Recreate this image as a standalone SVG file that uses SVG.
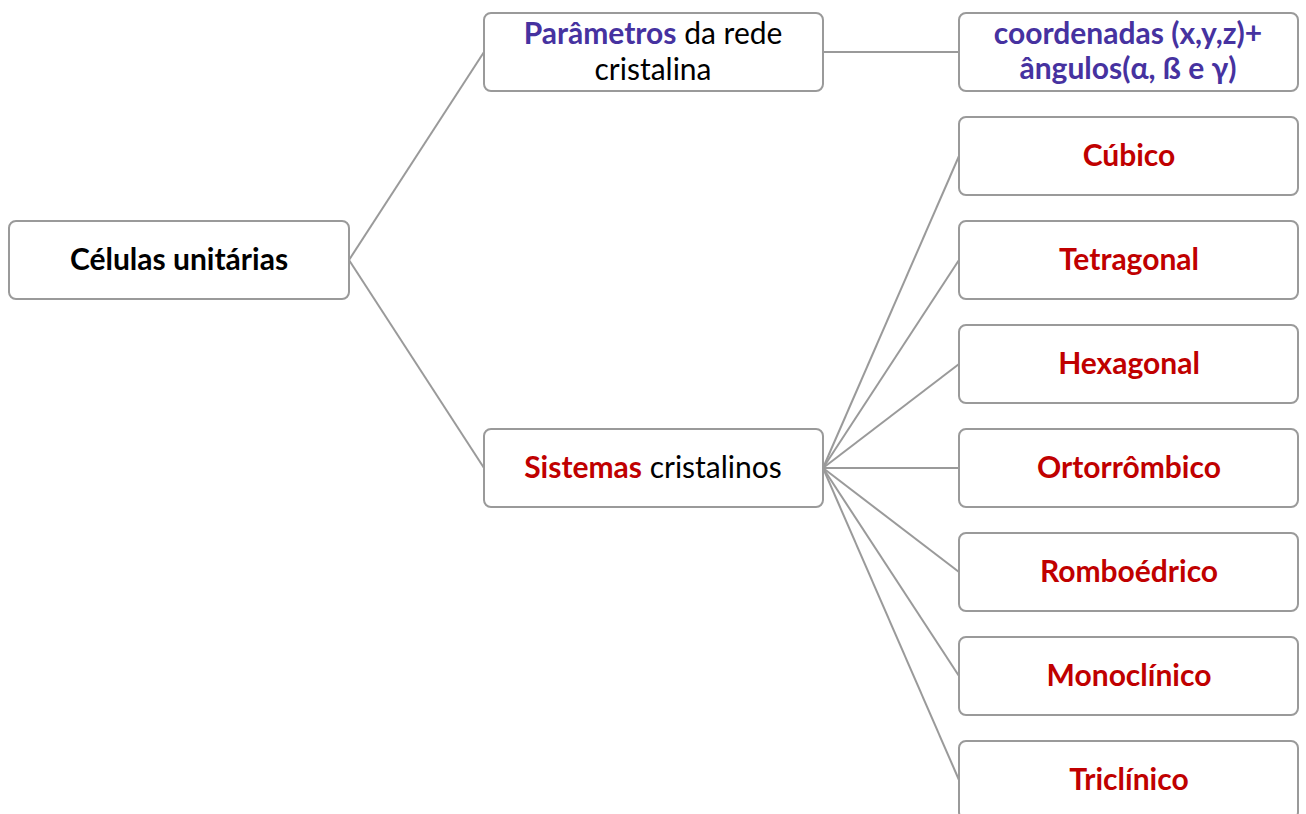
<svg xmlns="http://www.w3.org/2000/svg" width="1306" height="814" viewBox="0 0 1306 814">
<style>
.box{fill:#fff;stroke:#9a9a9a;stroke-width:2}
.t{font-family:Lato,"Open Sans","Liberation Sans",sans-serif;font-size:30px;text-anchor:middle;fill:#000}
.b{font-weight:bold}
.red{fill:#c00000;font-weight:bold}
.pur{fill:#4632a0;font-weight:bold}
.con line{stroke:#9a9a9a;stroke-width:2}
</style>
<rect width="1306" height="814" fill="#fff"/>
<g class="con">
<line x1="349" y1="260" x2="484" y2="52"/>
<line x1="349" y1="260" x2="484" y2="468"/>
<line x1="823" y1="52" x2="959" y2="52"/>
<line x1="823" y1="468" x2="959" y2="156"/>
<line x1="823" y1="468" x2="959" y2="260"/>
<line x1="823" y1="468" x2="959" y2="364"/>
<line x1="823" y1="468" x2="959" y2="468"/>
<line x1="823" y1="468" x2="959" y2="572"/>
<line x1="823" y1="468" x2="959" y2="676"/>
<line x1="823" y1="468" x2="959" y2="780"/>
</g>
<g id="celulas"><rect class="box" x="9" y="221" width="340" height="78" rx="7"/><text class="t b" x="179" y="270">Células unitárias</text></g>
<g id="parametros"><rect class="box" x="484" y="13" width="339" height="78" rx="7"/><text class="t" x="653" y="44"><tspan class="pur">Parâmetros</tspan> da rede</text><text class="t" x="653" y="80">cristalina</text></g>
<g id="sistemas"><rect class="box" x="484" y="429" width="339" height="78" rx="7"/><text class="t" x="653" y="478"><tspan class="red">Sistemas</tspan> cristalinos</text></g>
<g id="coordenadas"><rect class="box" x="959" y="13" width="339" height="78" rx="7"/><text class="t pur" x="1128" y="44">coordenadas (x,y,z)+</text><text class="t pur" x="1128" y="79">ângulos(α, ß e γ)</text></g>
<g id="cubico"><rect class="box" x="959" y="117" width="339" height="78" rx="7"/><text class="t red" x="1129" y="166">Cúbico</text></g>
<g id="tetragonal"><rect class="box" x="959" y="221" width="339" height="78" rx="7"/><text class="t red" x="1129" y="270">Tetragonal</text></g>
<g id="hexagonal"><rect class="box" x="959" y="325" width="339" height="78" rx="7"/><text class="t red" x="1129" y="374">Hexagonal</text></g>
<g id="ortorrombico"><rect class="box" x="959" y="429" width="339" height="78" rx="7"/><text class="t red" x="1129" y="478">Ortorrômbico</text></g>
<g id="romboedrico"><rect class="box" x="959" y="533" width="339" height="78" rx="7"/><text class="t red" x="1129" y="582">Romboédrico</text></g>
<g id="monoclinico"><rect class="box" x="959" y="637" width="339" height="78" rx="7"/><text class="t red" x="1129" y="686">Monoclínico</text></g>
<g id="triclinico"><rect class="box" x="959" y="741" width="339" height="78" rx="7"/><text class="t red" x="1129" y="790">Triclínico</text></g>
</svg>
